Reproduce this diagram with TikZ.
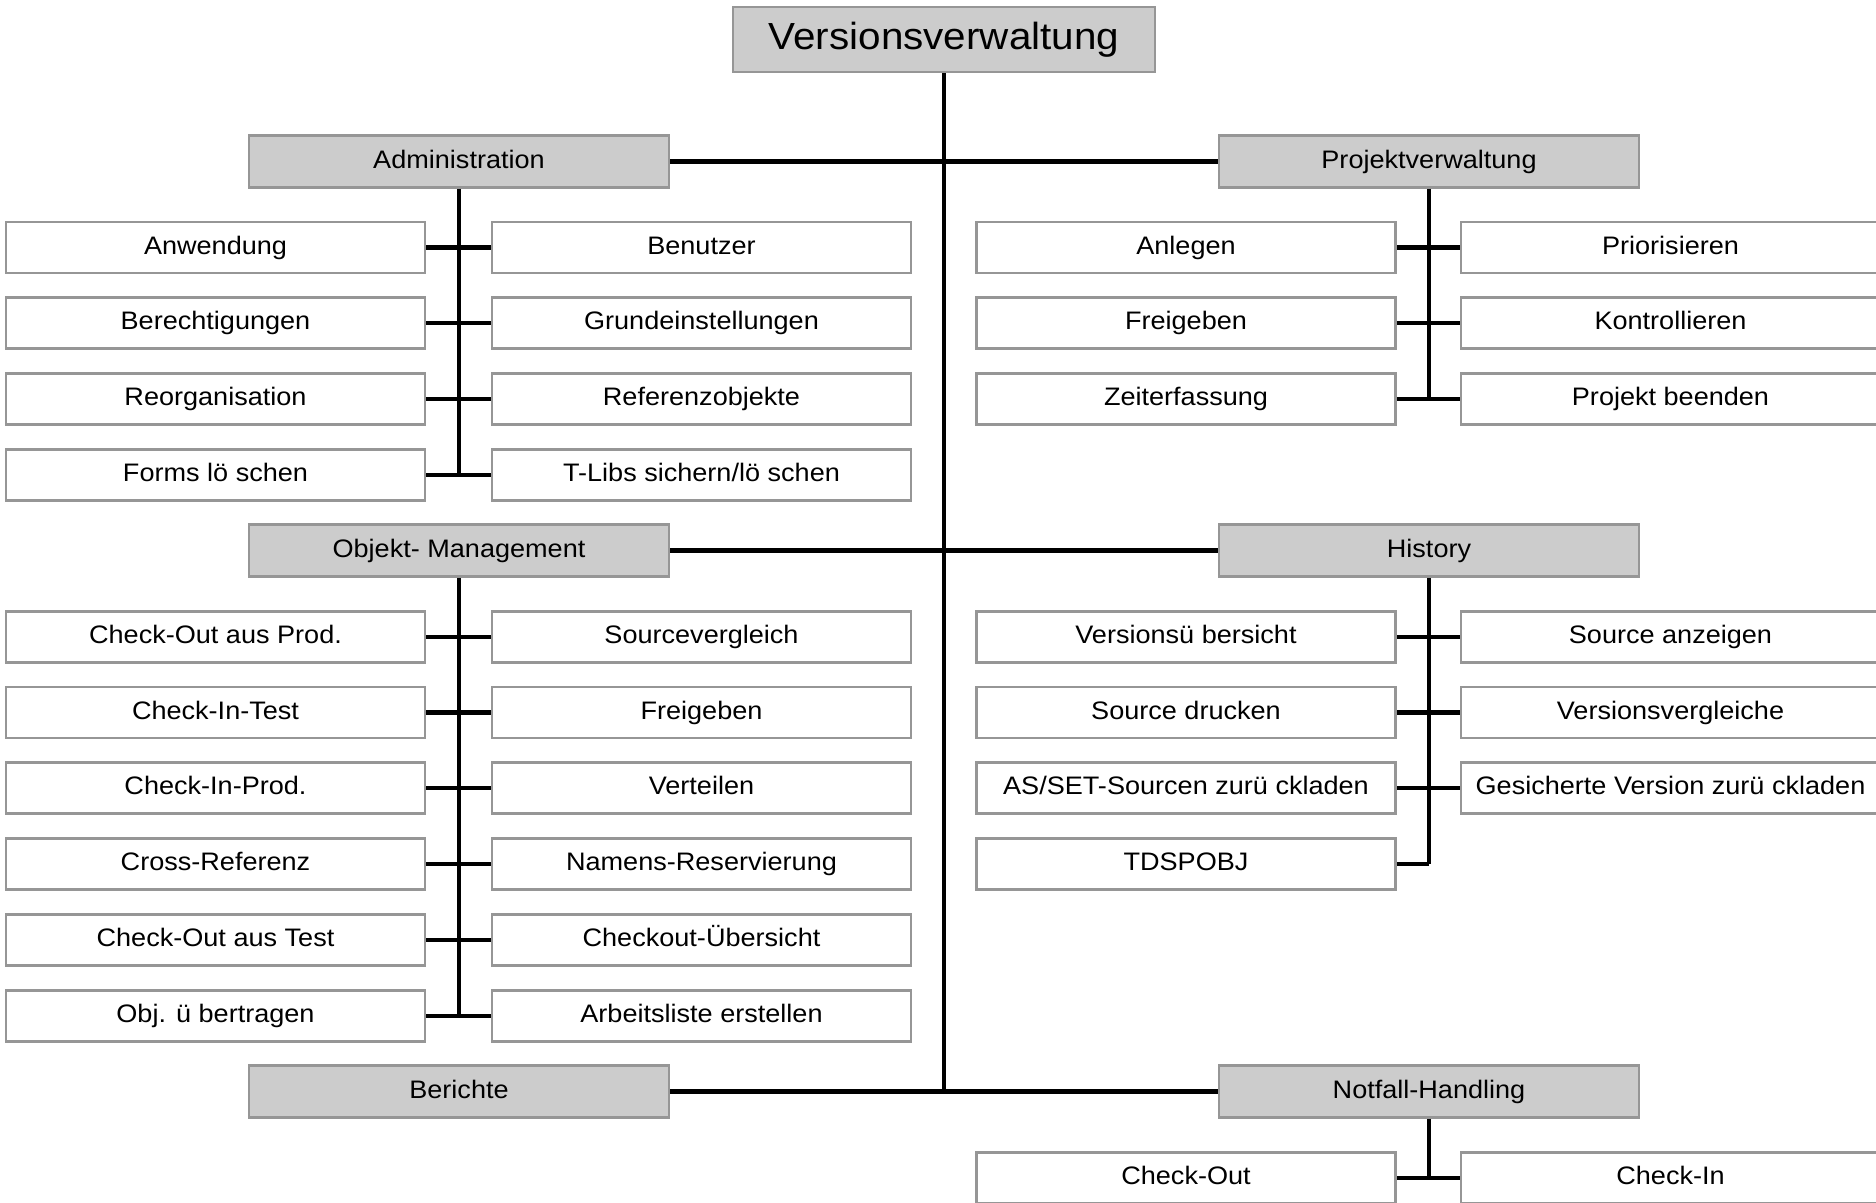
\documentclass[tikz,border=0pt]{standalone}
\usepackage{fontspec}
\setmainfont{Liberation Sans}[FakeStretch=1.07]
\usepackage{tikz}
\usetikzlibrary{positioning, calc}
\definecolor{framegray}{RGB}{150,150,150}
\definecolor{headgray}{RGB}{204,204,204}

\begin{document}
\begin{tikzpicture}[x=0.02cm, y=-0.02cm,
  leaf/.style={draw=framegray, line width=1.6pt, fill=white, minimum width=8.38cm, minimum height=1.02cm, inner sep=0pt, text height=10.5pt, text depth=3pt, font=\fontsize{14.4}{17}\selectfont},
  head/.style={leaf, fill=headgray, minimum width=8.4cm, minimum height=1.04cm},
  trunk/.style={line width=1.8pt},
  stub/.style={line width=2.4pt},
  mainline/.style={line width=2.6pt}]
\useasboundingbox (0,0) rectangle (1876,1203);

% Top and group boxes
\node[head, minimum width=8.44cm, minimum height=1.3cm, text height=15.5pt, text depth=4.5pt, font=\fontsize{21.5}{25}\selectfont] (vv) at (944,39.5) {Versionsverwaltung};
\node[head] (adm) at (459,161.5) {Administration};
\node[head] (pv) at (1429,161.5) {Projektverwaltung};
\node[head] (om) at (459,550.7) {Objekt- Management};
\node[head] (hist) at (1429,550.7) {History};
\node[head] (ber) at (459,1091.5) {Berichte};
\node[head] (nh) at (1429,1091.5) {Notfall-Handling};

% Administration
\node[leaf] (anw) at (215.5,247.5) {Anwendung};
\node[leaf] (benu) at (701.5,247.5) {Benutzer};
\node[leaf] (bere) at (215.5,323.3) {Berechtigungen};
\node[leaf] (grund) at (701.5,323.3) {Grundeinstellungen};
\node[leaf] (reorg) at (215.5,399.1) {Reorganisation};
\node[leaf] (refobj) at (701.5,399.1) {Referenzobjekte};
\node[leaf] (forms) at (215.5,474.9) {Forms lö schen};
\node[leaf] (tlibs) at (701.5,474.9) {T-Libs sichern/lö schen};

% Projektverwaltung
\node[leaf] (anl) at (1186,247.5) {Anlegen};
\node[leaf] (prio) at (1670.5,247.5) {Priorisieren};
\node[leaf] (frei) at (1186,323.3) {Freigeben};
\node[leaf] (kontr) at (1670.5,323.3) {Kontrollieren};
\node[leaf] (zeit) at (1186,399.1) {Zeiterfassung};
\node[leaf] (pend) at (1670.5,399.1) {Projekt beenden};

% Objekt-Management
\node[leaf] (coprod) at (215.5,636.7) {Check-Out aus Prod.};
\node[leaf] (svgl) at (701.5,636.7) {Sourcevergleich};
\node[leaf] (citest) at (215.5,712.5) {Check-In-Test};
\node[leaf] (freig) at (701.5,712.5) {Freigeben};
\node[leaf] (ciprod) at (215.5,788.3) {Check-In-Prod.};
\node[leaf] (vert) at (701.5,788.3) {Verteilen};
\node[leaf] (cross) at (215.5,864.1) {Cross-Referenz};
\node[leaf] (namres) at (701.5,864.1) {Namens-Reservierung};
\node[leaf] (cotest) at (215.5,939.9) {Check-Out aus Test};
\node[leaf] (coueb) at (701.5,939.9) {Checkout-Übersicht};
\node[leaf] (objueb) at (215.5,1015.7) {Obj. ü bertragen};
\node[leaf] (arbl) at (701.5,1015.7) {Arbeitsliste erstellen};

% History
\node[leaf] (vueb) at (1186,636.7) {Versionsü bersicht};
\node[leaf] (sanz) at (1670.5,636.7) {Source anzeigen};
\node[leaf] (sdr) at (1186,712.5) {Source drucken};
\node[leaf] (vvgl) at (1670.5,712.5) {Versionsvergleiche};
\node[leaf] (asset) at (1186,788.3) {AS/SET-Sourcen zurü ckladen};
\node[leaf] (gesv) at (1670.5,788.3) {Gesicherte Version zurü ckladen};
\node[leaf] (tds) at (1186,864.1) {TDSPOBJ};

% Notfall-Handling
\node[leaf] (chout) at (1186,1178) {Check-Out};
\node[leaf] (chin) at (1670.5,1178) {Check-In};

% Main lines
\draw[trunk] (vv.south) -- (vv.south |- ber.east);
\draw[mainline] (adm) -- (pv);
\draw[mainline] (om) -- (hist);
\draw[mainline] (ber) -- (nh);

% Sub trunks
\draw[trunk] (adm.south) -- (adm.south |- forms.east);
\draw[trunk] (pv.south) -- (pv.south |- zeit.east);
\draw[trunk] (om.south) -- (om.south |- objueb.east);
\draw[trunk] (hist.south) -- (hist.south |- tds.east);
\draw[trunk] (nh.south) -- (nh.south |- chout.east);

% Stubs
\draw[stub] (anw) -- (benu);
\draw[stub] (bere) -- (grund);
\draw[stub] (reorg) -- (refobj);
\draw[stub] (forms) -- (tlibs);
\draw[stub] (anl) -- (prio);
\draw[stub] (frei) -- (kontr);
\draw[stub] (zeit) -- (pend);
\draw[stub] (coprod) -- (svgl);
\draw[stub] (citest) -- (freig);
\draw[stub] (ciprod) -- (vert);
\draw[stub] (cross) -- (namres);
\draw[stub] (cotest) -- (coueb);
\draw[stub] (objueb) -- (arbl);
\draw[stub] (vueb) -- (sanz);
\draw[stub] (sdr) -- (vvgl);
\draw[stub] (asset) -- (gesv);
\draw[stub] (tds.east) -- (hist.south |- tds.east);
\draw[stub] (chout) -- (chin);
\end{tikzpicture}
\end{document}
